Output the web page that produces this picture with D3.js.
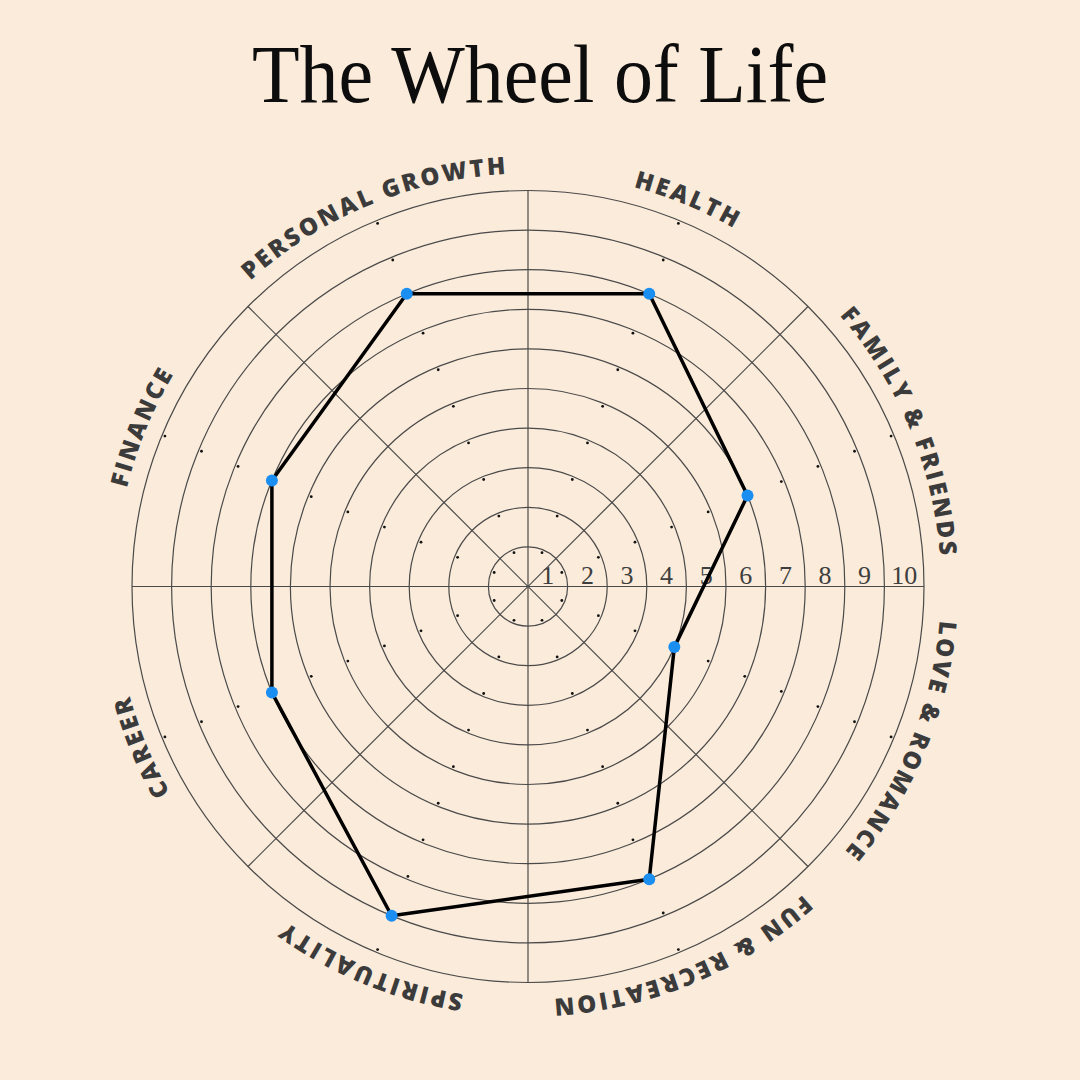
<!DOCTYPE html>
<html>
<head>
<meta charset="utf-8">
<script src="https://cdn.jsdelivr.net/npm/d3@7"></script>
<style>
  html, body { margin: 0; padding: 0; background: #fbebda; }
  #chart { width: 1080px; height: 1080px; }
</style>
</head>
<body>
<div id="chart"></div>
<script>
// categories clockwise from the top
const categories = ["HEALTH", "FAMILY & FRIENDS", "LOVE & ROMANCE", "FUN & RECREATION",
                    "SPIRITUALITY", "CAREER", "FINANCE", "PERSONAL GROWTH"];
const scores = [8, 6, 4, 8, 9, 7, 7, 8];
const ringLevels = [1, 2, 3, 4, 5, 6, 7, 8, 9, 10];

function init() {
  const width = 1080, height = 1080;
  const cx = 528, cy = 586.5;
  const outerRadius = 396;
  const labelRadius = 413;

  const r = d3.scaleLinear().domain([0, 10]).range([0, outerRadius]);
  const angle = d3.scaleLinear().domain([0, categories.length]).range([0, 2 * Math.PI]);
  const mid = i => angle(i + 0.5);

  const svg = d3.select("#chart").append("svg")
      .attr("width", width)
      .attr("height", height);

  svg.append("rect").attr("width", width).attr("height", height).attr("fill", "#fbebda");

  svg.append("text")
      .attr("x", 540)
      .attr("y", 102)
      .attr("text-anchor", "middle")
      .attr("font-family", "'Liberation Serif', 'DejaVu Serif', serif")
      .attr("font-size", 82)
      .attr("textLength", 576)
      .attr("lengthAdjust", "spacingAndGlyphs")
      .attr("fill", "#0d0d0d")
      .text("The Wheel of Life");

  const g = svg.append("g").attr("transform", "translate(" + cx + "," + cy + ")");

  // rings
  g.selectAll(".ring")
      .data(ringLevels)
      .enter().append("circle")
      .attr("class", "ring")
      .attr("r", d => r(d))
      .attr("fill", "none")
      .attr("stroke", "#4a4a4a")
      .attr("stroke-width", 1.2);

  // spokes (sector boundaries)
  const spokes = d3.range(categories.length / 2).map(i => angle(i));
  g.selectAll(".spoke")
      .data(spokes)
      .enter().append("line")
      .attr("class", "spoke")
      .attr("x1", a => Math.sin(a) * outerRadius)
      .attr("y1", a => -Math.cos(a) * outerRadius)
      .attr("x2", a => -Math.sin(a) * outerRadius)
      .attr("y2", a => Math.cos(a) * outerRadius)
      .attr("stroke", "#4a4a4a")
      .attr("stroke-width", 1.2);

  // small marks on each ring at sector middles
  const marks = [];
  ringLevels.forEach(k => categories.forEach((c, i) => marks.push({ k: k, i: i })));
  g.selectAll(".mark")
      .data(marks)
      .enter().append("circle")
      .attr("class", "mark")
      .attr("cx", d => Math.sin(mid(d.i)) * (r(d.k) - 3))
      .attr("cy", d => -Math.cos(mid(d.i)) * (r(d.k) - 3))
      .attr("r", 1.4)
      .attr("fill", "#111");

  // scale numbers
  g.selectAll(".num")
      .data(ringLevels)
      .enter().append("text")
      .attr("class", "num")
      .attr("x", d => r(d - 0.5))
      .attr("y", -3)
      .attr("text-anchor", "middle")
      .attr("font-family", "'Liberation Serif', 'DejaVu Serif', serif")
      .attr("font-size", 26)
      .attr("fill", "#3e3e3e")
      .text(d => d);

  // score polygon
  const line = d3.lineRadial()
      .angle((d, i) => mid(i))
      .radius(d => r(d))
      .curve(d3.curveLinearClosed);

  g.append("path")
      .datum(scores)
      .attr("d", line)
      .attr("fill", "none")
      .attr("stroke", "#000")
      .attr("stroke-width", 3.5)
      .attr("stroke-linejoin", "round");

  g.selectAll(".vertex")
      .data(scores)
      .enter().append("circle")
      .attr("class", "vertex")
      .attr("cx", (d, i) => Math.sin(mid(i)) * r(d))
      .attr("cy", (d, i) => -Math.cos(mid(i)) * r(d))
      .attr("r", 6)
      .attr("fill", "#1b8ef2");

  // curved category labels along a clockwise circle
  g.append("path")
      .attr("id", "labelArc")
      .attr("d", "M 0," + (-labelRadius) +
                 " A " + labelRadius + " " + labelRadius + " 0 1 1 0," + labelRadius +
                 " A " + labelRadius + " " + labelRadius + " 0 1 1 0," + (-labelRadius))
      .attr("fill", "none");

  g.selectAll(".cat")
      .data(categories)
      .enter().append("text")
      .attr("class", "cat")
      .attr("font-family", "'Open Sans', 'DejaVu Sans', sans-serif")
      .attr("font-weight", 800)
      .attr("font-size", 24)
      .attr("letter-spacing", 2.6)
      .attr("fill", "#3b3b3b")
      .append("textPath")
      .attr("href", "#labelArc")
      .attr("startOffset", (d, i) => ((i + 0.5) / categories.length * 100) + "%")
      .attr("text-anchor", "middle")
      .text(d => d);
}

window.onload = init;
</script>
</body>
</html>
